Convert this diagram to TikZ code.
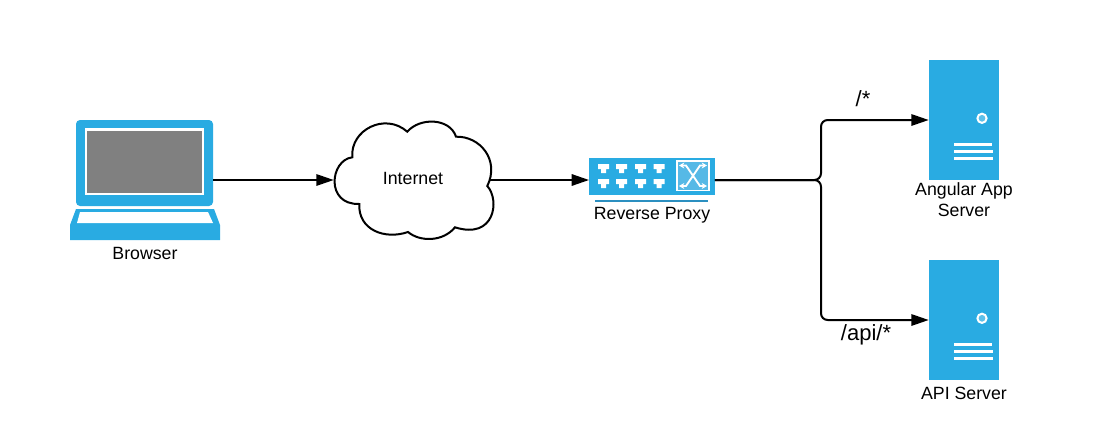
\documentclass[tikz,border=0pt]{standalone}
\usepackage{fontspec}
\setmainfont{Liberation Sans}
\usetikzlibrary{arrows.meta}
\definecolor{iconblue}{HTML}{29ABE2}
\definecolor{barblue}{HTML}{2B8FC0}
\definecolor{swblue}{HTML}{56B9E6}
\definecolor{screengray}{HTML}{808080}
\begin{document}
\begin{tikzpicture}[x=0.75pt,y=-0.75pt]
  \tikzstyle{every node}+=[inner sep=0pt]
  \tikzstyle{caption}=[align=center,font=\fontsize{13.3}{15.8}\selectfont]
  \tikzstyle{route}=[font=\fontsize{16.5}{19}\selectfont]
  \tikzstyle{server}=[fill=iconblue,minimum width=52.5pt,minimum height=90pt]
  \tikzstyle{link}=[black,line width=1.5pt,-{Triangle[length=13pt,width=8.5pt]}]
  \tikzstyle{rack}=[white,line width=2.2pt]
  \tikzstyle{swarrow}=[white,line width=1.4pt,{Stealth[length=4pt,width=4.5pt]}-{Stealth[length=4pt,width=4.5pt]}]
  \useasboundingbox (0,0) rectangle (1096,443);
  % browser
  \node [fill=iconblue,rounded corners=3pt,minimum width=102.75pt,minimum height=64.5pt] (browser) at (144.5,163) {};
  \fill [white] (85,128) rectangle (204,195);
  \fill [screengray] (87,130.5) rectangle (202,192.5);
  \fill [iconblue] (76,209) -- (214,209) -- (220,225) -- (220,240) -- (70,240) -- (70,225) -- cycle;
  \fill [white] (80,212) -- (208,212) -- (213,223) -- (77,223) -- cycle;
  \node [caption] (browserlabel) at (145,253) {Browser};
  % internet
  \node [minimum width=117pt,minimum height=90pt] (internet) at (412,180) {};
  \draw [black,line width=1.5pt,fill=white] (352.3,157.3)
    .. controls (350,130) and (385,112) .. (407.3,131.7)
    .. controls (420,117) and (450,118) .. (456,136.7)
    .. controls (480,136) and (500,160) .. (487.3,186)
    .. controls (500,200) and (495,240) .. (455,227.3)
    .. controls (443,242) and (420,242) .. (408,232)
    .. controls (385,240) and (358,230) .. (359.3,204)
    .. controls (325,205) and (330,160) .. (352.3,157.3) -- cycle;
  \node (internetlabel) [caption] at (413,178) {Internet};
  % proxy
  \node [fill=iconblue,minimum width=94pt,minimum height=28pt] (proxy) at (652,176.5) {};
  \draw [barblue,line width=2.2pt] (595,201) -- (708,201);
  \fill [white] (598,164) -- ++(11,0) -- ++(0,5) -- ++(-3,0) -- ++(0,4) -- ++(-5,0) -- ++(0,-4) -- ++(-3,0) -- cycle;
  \fill [white] (616,164) -- ++(11,0) -- ++(0,5) -- ++(-3,0) -- ++(0,4) -- ++(-5,0) -- ++(0,-4) -- ++(-3,0) -- cycle;
  \fill [white] (635,164) -- ++(11,0) -- ++(0,5) -- ++(-3,0) -- ++(0,4) -- ++(-5,0) -- ++(0,-4) -- ++(-3,0) -- cycle;
  \fill [white] (653.5,164) -- ++(11,0) -- ++(0,5) -- ++(-3,0) -- ++(0,4) -- ++(-5,0) -- ++(0,-4) -- ++(-3,0) -- cycle;
  \fill [white] (598,179) -- ++(11,0) -- ++(0,5) -- ++(-3,0) -- ++(0,4) -- ++(-5,0) -- ++(0,-4) -- ++(-3,0) -- cycle;
  \fill [white] (616,179) -- ++(11,0) -- ++(0,5) -- ++(-3,0) -- ++(0,4) -- ++(-5,0) -- ++(0,-4) -- ++(-3,0) -- cycle;
  \fill [white] (635,179) -- ++(11,0) -- ++(0,5) -- ++(-3,0) -- ++(0,4) -- ++(-5,0) -- ++(0,-4) -- ++(-3,0) -- cycle;
  \fill [white] (653.5,179) -- ++(11,0) -- ++(0,5) -- ++(-3,0) -- ++(0,4) -- ++(-5,0) -- ++(0,-4) -- ++(-3,0) -- cycle;
  \draw [white,line width=1pt,fill=swblue] (677,161) rectangle (709,190.5);
  \draw [swarrow] (679,165.5) -- (686,165.5) -- (700,186) -- (707,186);
  \draw [swarrow] (679,186) -- (686,186) -- (700,165.5) -- (707,165.5);
  \node [caption] (proxylabel) at (652,215) {Reverse Proxy};
  % servers
  \node [server] (angular) at (964,120) {};
  \draw [white,line width=1.5pt,fill=iconblue!75!white] (982,118.3) circle (4.6);
  \draw [rack,line width=1.7pt] (954,144.5) -- (992,144.5);
  \draw [rack] (954,151.5) -- (993,151.5);
  \draw [rack] (954,158.5) -- (993,158.5);
  \node [caption] (angularlabel) at (964,199.5) {Angular App\\Server};
  \node [server] (api) at (964,320) {};
  \draw [white,line width=1.5pt,fill=iconblue!75!white] (982,318.3) circle (4.6);
  \draw [rack,line width=1.7pt] (954,344.5) -- (992,344.5);
  \draw [rack] (954,351.5) -- (993,351.5);
  \draw [rack] (954,358.5) -- (993,358.5);
  \node [caption] (apilabel) at (964,393) {API Server};
  % connectors
  \coordinate (fork) at (821,180);
  \draw [link] (browser.east |- internet.west) -- (internet.west);
  \draw [link] (internet.east) -- (proxy.west |- internet.east);
  \draw [link,rounded corners=5pt] (proxy.east |- fork) -- (fork) |- (angular.west);
  \draw [link,rounded corners=5pt] (proxy.east |- fork) -- (fork) |- (api.west);
  \node [route] (rootlabel) at (863,99) {/*};
  \node [route] (apiroute) at (866,335) {/api/*};
\end{tikzpicture}
\end{document}
